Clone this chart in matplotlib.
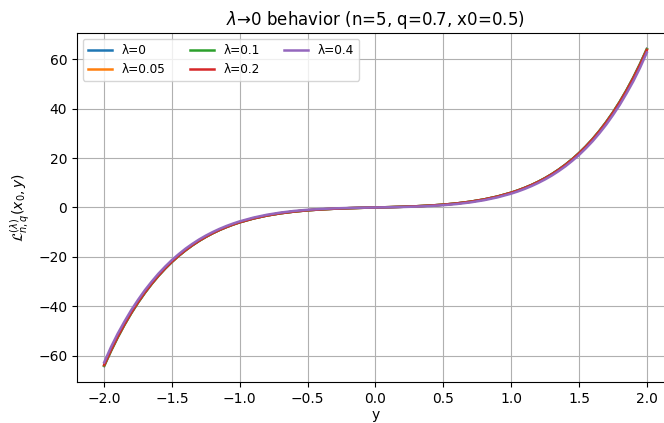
import matplotlib
matplotlib.use('Agg')
import matplotlib.pyplot as plt

# y grid, finer where the curves get steep
y = [-2.0, -1.95, -1.9, -1.85, -1.8, -1.75, -1.7, -1.65, -1.6, -1.55, -1.5,
     -1.45, -1.4, -1.35, -1.3, -1.25, -1.2, -1.15, -1.1, -1.05, -1.0,
     -0.9, -0.8, -0.7, -0.6, -0.5, -0.4, -0.3, -0.2, -0.1, 0.0,
     0.1, 0.2, 0.3, 0.4, 0.5, 0.6, 0.7, 0.8, 0.9, 1.0,
     1.05, 1.1, 1.15, 1.2, 1.25, 1.3, 1.35, 1.4, 1.45, 1.5,
     1.55, 1.6, 1.65, 1.7, 1.75, 1.8, 1.85, 1.9, 1.95, 2.0]

# values
L_0 = [-64.20, -58.17, -52.61, -47.50, -42.81, -38.52, -34.59, -31.00, -27.72, -24.74, -22.03,
       -19.57, -17.35, -15.34, -13.53, -11.90, -10.44, -9.13, -7.97, -6.92, -6.00,
       -4.46, -3.26, -2.35, -1.66, -1.14, -0.77, -0.49, -0.29, -0.13, 0.00,
       0.13, 0.29, 0.49, 0.77, 1.14, 1.66, 2.35, 3.26, 4.46, 6.00,
       6.92, 7.97, 9.13, 10.44, 11.90, 13.53, 15.34, 17.35, 19.57, 22.03,
       24.74, 27.72, 31.00, 34.59, 38.52, 42.81, 47.50, 52.61, 58.17, 64.20]
L_005 = [-64.07, -58.05, -52.50, -47.41, -42.72, -38.44, -34.52, -30.94, -27.66, -24.69, -21.99,
         -19.53, -17.32, -15.31, -13.50, -11.88, -10.42, -9.11, -7.95, -6.91, -5.99,
         -4.45, -3.25, -2.34, -1.65, -1.14, -0.77, -0.49, -0.29, -0.13, 0.00,
         0.13, 0.29, 0.49, 0.77, 1.14, 1.65, 2.34, 3.25, 4.45, 5.99,
         6.91, 7.95, 9.11, 10.42, 11.88, 13.50, 15.31, 17.32, 19.53, 21.99,
         24.69, 27.66, 30.94, 34.52, 38.44, 42.72, 47.41, 52.50, 58.05, 64.07]
L_01 = [-63.94, -57.94, -52.40, -47.31, -42.64, -38.37, -34.45, -30.87, -27.61, -24.64, -21.94,
        -19.50, -17.28, -15.28, -13.48, -11.86, -10.40, -9.09, -7.94, -6.90, -5.98,
        -4.44, -3.25, -2.34, -1.65, -1.14, -0.76, -0.49, -0.29, -0.13, 0.00,
        0.13, 0.29, 0.49, 0.76, 1.14, 1.65, 2.34, 3.25, 4.44, 5.98,
        6.90, 7.94, 9.09, 10.40, 11.86, 13.48, 15.28, 17.28, 19.50, 21.94,
        24.64, 27.61, 30.87, 34.45, 38.37, 42.64, 47.31, 52.40, 57.94, 63.94]
L_02 = [-63.69, -57.70, -52.19, -47.12, -42.47, -38.21, -34.31, -30.75, -27.50, -24.54, -21.85,
        -19.42, -17.21, -15.22, -13.42, -11.81, -10.36, -9.06, -7.91, -6.87, -5.95,
        -4.42, -3.24, -2.33, -1.64, -1.13, -0.76, -0.49, -0.29, -0.13, 0.00,
        0.13, 0.29, 0.49, 0.76, 1.13, 1.64, 2.33, 3.24, 4.42, 5.95,
        6.87, 7.91, 9.06, 10.36, 11.81, 13.42, 15.22, 17.21, 19.42, 21.85,
        24.54, 27.50, 30.75, 34.31, 38.21, 42.47, 47.12, 52.19, 57.70, 63.69]
L_04 = [-62.70, -56.54, -51.05, -46.13, -41.50, -37.36, -33.48, -30.01, -26.78, -23.90, -21.23,
        -18.86, -16.66, -14.72, -12.94, -11.36, -9.94, -8.66, -7.52, -6.50, -5.60,
        -4.10, -2.94, -2.06, -1.40, -0.93, -0.60, -0.36, -0.20, -0.08, 0.00,
        0.08, 0.20, 0.36, 0.60, 0.93, 1.40, 2.06, 2.94, 4.10, 5.60,
        6.50, 7.52, 8.66, 9.94, 11.36, 12.94, 14.72, 16.66, 18.86, 21.23,
        23.90, 26.78, 30.01, 33.48, 37.36, 41.50, 46.13, 51.05, 56.54, 62.70]

lams = ['0', '0.05', '0.1', '0.2', '0.4']
series = [L_0, L_005, L_01, L_02, L_04]

fig = plt.figure(figsize=(6.64, 4.23), dpi=100)
ax = fig.add_subplot(111)
for lam, vals in zip(lams, series):
    ax.plot(y, vals, lw=1.8, label='λ=' + lam)

ax.set_xlabel('y', labelpad=2)
ax.set_ylabel(r'$\mathcal{L}_{n,q}^{(\lambda)}(x_0,y)$')
ax.set_title(r'$\lambda$→0 behavior (n=5, q=0.7, x0=0.5)')
ax.grid(True)
ax.legend(ncol=3, fontsize=8.7, loc='upper left')
# the reference is cut off on the right, the axes run past the edge
fig.subplots_adjust(left=0.116, right=1.015, top=0.922, bottom=0.097)
fig.savefig('out.png')
